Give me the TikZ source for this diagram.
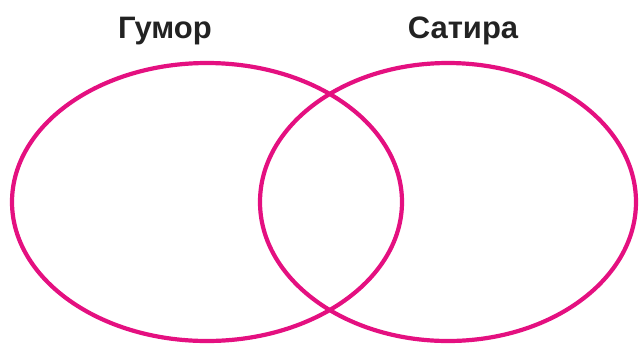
\documentclass[tikz,border=0pt]{standalone}
\usepackage{fontspec}
\setsansfont{Liberation Sans}
\usepackage{xcolor}
\usetikzlibrary{positioning,shapes.geometric}
\definecolor{vennpink}{RGB}{228,16,128}
\definecolor{titlegray}{RGB}{34,34,34}

\begin{document}
\begin{tikzpicture}[x=0.5pt, y=-0.5pt, every node/.style={font=\sffamily\bfseries\fontsize{15.5}{18}\selectfont, text=titlegray}, set/.style={draw=vennpink, ellipse, line width=2.1pt, inner sep=0pt}]
\useasboundingbox (0,0) rectangle (639,345);
\node[set, minimum width=195pt, minimum height=139pt] (humor) at (207,202) {};
\node[set, minimum width=188pt, minimum height=139pt] (satire) at (448,202) {};
\node (humortitle) at (165,31) {Гумор};
\node (satiretitle) at (463,31) {Сатира};
\end{tikzpicture}
\end{document}
